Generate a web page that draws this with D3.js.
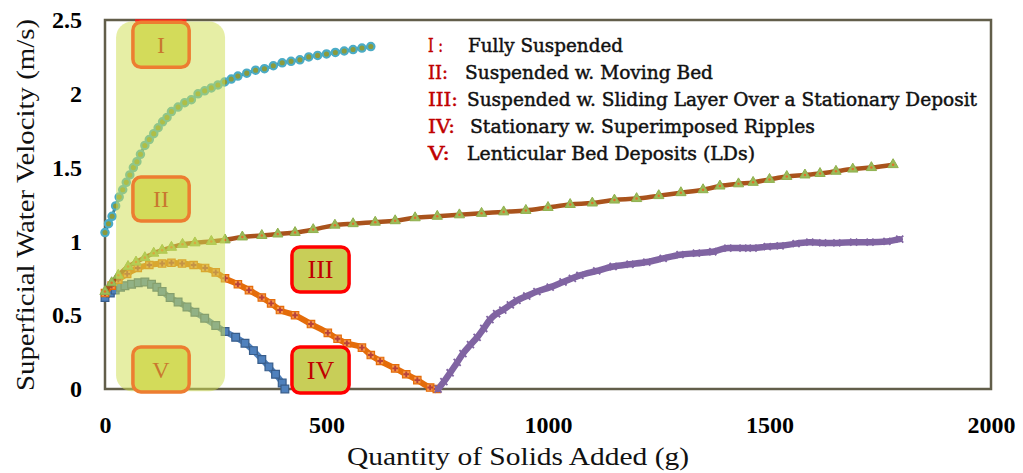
<!DOCTYPE html>
<html><head><meta charset="utf-8">
<script src="https://cdn.jsdelivr.net/npm/d3@7"></script>
<style>
html,body{margin:0;padding:0;background:#fff;}
svg{display:block;}
</style></head>
<body><svg id="chart" width="1023" height="473"></svg>
<script>
// Velocity traces: [quantity of solids added (g), superficial water velocity (m/s)]
const tealTrace = [[0,1.06],[8,1.12],[16,1.17],[24,1.24],[32,1.30],[40,1.35],[48,1.40],[56,1.45],[64,1.50],[72,1.54],[80,1.59],[90,1.65],[100,1.69],[110,1.73],[120,1.77],[130,1.81],[140,1.84],[150,1.88],[165,1.91],[180,1.94],[195,1.96],[210,2.00],[225,2.02],[240,2.04],[255,2.06],[270,2.08],[285,2.10],[300,2.12],[320,2.14],[340,2.16],[360,2.17],[380,2.19],[400,2.21],[420,2.22],[440,2.23],[460,2.25],[480,2.26],[500,2.27],[520,2.28],[540,2.29],[560,2.30],[580,2.31],[600,2.32]];
const greenTrace = [[0,0.66],[15,0.72],[30,0.77],[52,0.83],[70,0.86],[90,0.89],[110,0.92],[129,0.94],[150,0.96],[175,0.98],[203,0.99],[240,1.00],[271,1.01],[310,1.03],[354,1.04],[390,1.05],[429,1.06],[470,1.08],[519,1.11],[560,1.12],[610,1.13],[655,1.14],[700,1.16],[750,1.17],[800,1.18],[850,1.19],[900,1.20],[950,1.21],[1000,1.23],[1050,1.25],[1100,1.26],[1150,1.28],[1200,1.29],[1250,1.31],[1300,1.33],[1350,1.35],[1388,1.375],[1430,1.39],[1463,1.40],[1500,1.42],[1539,1.44],[1580,1.45],[1614,1.46],[1650,1.475],[1688,1.49],[1730,1.50],[1779,1.52]];
const orangeTrace = [[0,0.65],[15,0.70],[30,0.74],[50,0.78],[74,0.82],[100,0.84],[129,0.85],[150,0.855],[174,0.85],[200,0.84],[226,0.82],[250,0.79],[271,0.75],[300,0.71],[325,0.67],[354,0.62],[375,0.58],[395,0.535],[429,0.50],[465,0.44],[503,0.38],[525,0.34],[546,0.31],[580,0.28],[600,0.23],[621,0.19],[655,0.14],[680,0.10],[705,0.06],[734,0.01],[749,0.0]];
const blueTrace = [[0,0.62],[12,0.65],[23,0.67],[35,0.69],[45,0.70],[60,0.71],[75,0.72],[90,0.725],[105,0.71],[117,0.69],[129,0.66],[147,0.62],[165,0.59],[185,0.555],[203,0.52],[225,0.48],[250,0.43],[271,0.39],[295,0.35],[316,0.31],[335,0.26],[354,0.20],[370,0.15],[385,0.10],[400,0.04],[406,0.0]];
const purpleTrace = [[752,0.0],[765,0.05],[779,0.11],[795,0.18],[808,0.24],[825,0.30],[840,0.35],[855,0.41],[869,0.47],[884,0.51],[898,0.535],[915,0.57],[930,0.60],[952,0.63],[975,0.66],[1005,0.69],[1034,0.725],[1055,0.75],[1072,0.77],[1110,0.80],[1147,0.83],[1185,0.845],[1223,0.86],[1260,0.885],[1298,0.91],[1335,0.92],[1372,0.93],[1406,0.955],[1440,0.955],[1463,0.955],[1495,0.965],[1524,0.97],[1560,0.985],[1591,0.995],[1620,0.99],[1652,0.99],[1690,0.995],[1727,0.995],[1765,1.00],[1794,1.015]];

const xTicks = [0, 500, 1000, 1500, 2000];
const yTicks = [0, 0.5, 1, 1.5, 2, 2.5];
const yTickLabels = ["0", "0.5", "1", "1.5", "2", "2.5"];

const regimeNumerals = ["I :", "II:", "III:", "IV:", "V:"];
const regimeNames = ["Fully Suspended", "Suspended w. Moving Bed", "Suspended w. Sliding Layer Over a Stationary Deposit", "Stationary w. Superimposed Ripples", "Lenticular Bed Deposits (LDs)"];

const xTitle = "Quantity of Solids Added (g)";
const yTitle = "Superficial Water Velocity (m/s)";

// ---- layout ----
const svg = d3.select("#chart");
const x = d3.scaleLinear().domain([0, 2000]).range([105, 991]);
const y = d3.scaleLinear().domain([0, 2.5]).range([389, 20]);
const serif = "'DejaVu Serif', 'Liberation Serif', serif";
const tickFont = "'Liberation Serif', serif";

svg.append("rect").attr("width", 1023).attr("height", 473).attr("fill", "#fff");

// plot frame
svg.append("rect")
  .attr("x", x(0)).attr("y", y(2.5))
  .attr("width", x(2000) - x(0)).attr("height", y(0) - y(2.5))
  .attr("fill", "none").attr("stroke", "#625e4a").attr("stroke-width", 2.5);

// axes
const gx = svg.append("g").attr("transform", `translate(0,${y(0)})`)
  .call(d3.axisBottom(x).tickValues(xTicks).tickSize(0).tickPadding(27).tickFormat(d3.format("d")));
gx.select(".domain").remove();
gx.attr("font-family", tickFont).attr("font-size", 24).attr("font-weight", "bold");
gx.selectAll("text").attr("fill", "#000");

const gy = svg.append("g").attr("transform", `translate(${x(0)},0)`)
  .call(d3.axisLeft(y).tickValues(yTicks).tickSize(0).tickPadding(23)
    .tickFormat((d, i) => yTickLabels[i]));
gy.select(".domain").remove();
gy.attr("font-family", tickFont).attr("font-size", 24).attr("font-weight", "bold");
gy.selectAll("text").attr("fill", "#000");

// axis titles
svg.append("text").text(xTitle)
  .attr("x", 518).attr("y", 465).attr("text-anchor", "middle")
  .attr("font-family", "'Liberation Serif', serif").attr("font-size", 25)
  .attr("textLength", 342).attr("lengthAdjust", "spacingAndGlyphs").attr("fill", "#111");
svg.append("text").text(yTitle)
  .attr("transform", "translate(34,205) rotate(-90)").attr("text-anchor", "middle")
  .attr("font-family", "'Liberation Serif', serif").attr("font-size", 26)
  .attr("textLength", 372).attr("lengthAdjust", "spacingAndGlyphs").attr("fill", "#111");

// ---- traces ----
const line = d3.line().x(d => x(d[0])).y(d => y(d[1])).curve(d3.curveMonotoneX);
const plot = svg.append("g");

function drawLine(data, color, width) {
  plot.append("path").datum(data).attr("d", line)
    .attr("fill", "none").attr("stroke", color).attr("stroke-width", width)
    .attr("stroke-linejoin", "round").attr("stroke-linecap", "round");
}
function drawSymbols(data, type, size, fill, stroke, sw) {
  plot.append("g").selectAll("path").data(data).join("path")
    .attr("transform", d => `translate(${x(d[0])},${y(d[1])})`)
    .attr("d", d3.symbol().type(type).size(size))
    .attr("fill", fill).attr("stroke", stroke).attr("stroke-width", sw);
}
const xSym = d3.symbolX || d3.symbolCross;

// V trace (blue squares)
drawLine(blueTrace, "#4f81bd", 6);
drawSymbols(blueTrace, d3.symbolSquare, 60, "#4f81bd", "#385d8a", 1.2);

// III / IV trace (orange)
drawLine(orangeTrace, "#e46c0a", 6);
drawSymbols(orangeTrace, d3.symbolSquare, 55, "#f79646", "#e46c0a", 1.2);
drawSymbols(orangeTrace, d3.symbolCross, 18, "#b8423a", "none", 0);

// ripples recovery trace (purple)
drawLine(purpleTrace, "#8064a2", 6.5);
drawSymbols(purpleTrace, xSym, 34, "none", "#8064a2", 1.8);

// II trace (green markers on brown line)
drawLine(greenTrace, "#a9531c", 4.5);
drawSymbols(greenTrace, d3.symbolTriangle, 46, "#9bbb59", "#8fb04e", 1);
drawSymbols(greenTrace, d3.symbolCircle, 5, "#e0702a", "none", 0);

// I trace (teal ring markers)
drawLine(tealTrace, "#3f7f8f", 3);
drawSymbols(tealTrace, d3.symbolCircle, 42, "#8c9b3c", "#4bacc6", 2.2);

// ---- regime zone overlay ----
svg.append("line")
  .attr("x1", x(68)).attr("x2", x(184)).attr("y1", 20.5).attr("y2", 20.5)
  .attr("stroke", "#ff1a1a").attr("stroke-width", 2.5);
svg.append("rect")
  .attr("x", x(25)).attr("y", y(2.49))
  .attr("width", x(271) - x(25)).attr("height", y(-0.015) - y(2.49))
  .attr("rx", 16).attr("fill", "#cfdf52").attr("fill-opacity", 0.52);

function labelBox(g0, g1, v0, v1, label, fill, stroke, color, size) {
  const bx = x(g0), bw = x(g1) - x(g0), by = y(v1), bh = y(v0) - y(v1);
  svg.append("rect").attr("x", bx).attr("y", by).attr("width", bw).attr("height", bh)
    .attr("rx", 8).attr("fill", fill).attr("stroke", stroke).attr("stroke-width", 3.5);
  svg.append("text").text(label)
    .attr("x", bx + bw / 2).attr("y", by + bh / 2 + size * 0.34)
    .attr("text-anchor", "middle").attr("font-family", "'Liberation Serif', serif")
    .attr("font-size", size).attr("fill", color);
}
labelBox(63, 190, 2.18, 2.485, "I", "#d3db5a", "#ed7d31", "#c9782e", 24);
labelBox(63, 190, 1.138, 1.436, "II", "#d3db5a", "#ed7d31", "#c9782e", 24);
labelBox(63, 190, -0.02, 0.285, "V", "#d3db5a", "#ed7d31", "#c9782e", 24);
labelBox(422, 551, 0.657, 0.962, "III", "#c8ce58", "#ff0000", "#c00000", 26);
labelBox(422, 551, -0.027, 0.285, "IV", "#c8ce58", "#ff0000", "#c00000", 26);

// ---- regime legend ----
const legendRows = [
  {base: 52, textX: 468, len: 155},
  {base: 79, textX: 465, len: 248},
  {base: 106, textX: 467, len: 510},
  {base: 133, textX: 470, len: 345},
  {base: 160, textX: 467, len: 288}
];
const numLens = [15, 20, 30, 27, 22];
legendRows.forEach((r, i) => {
  svg.append("text").text(regimeNumerals[i])
    .attr("x", 428).attr("y", r.base)
    .attr("font-family", serif).attr("font-size", 18).attr("fill", "#c00000")
    .attr("stroke", "#c00000").attr("stroke-width", 0.45)
    .attr("textLength", numLens[i]).attr("lengthAdjust", "spacingAndGlyphs");
  svg.append("text").text(regimeNames[i])
    .attr("x", r.textX).attr("y", r.base)
    .attr("font-family", serif).attr("font-size", 18).attr("fill", "#111")
    .attr("stroke", "#111").attr("stroke-width", 0.45)
    .attr("textLength", r.len).attr("lengthAdjust", "spacingAndGlyphs");
});
</script>
</body></html>
